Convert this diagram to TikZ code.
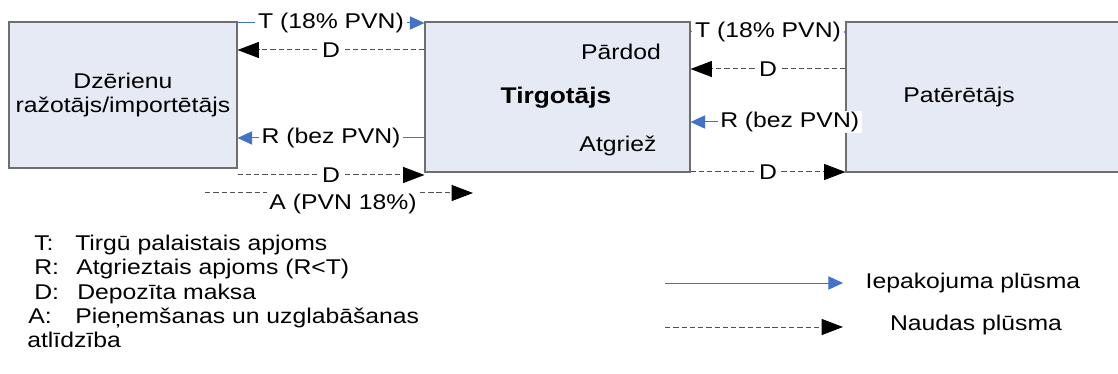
\documentclass[tikz,border=0pt]{standalone}
\usepackage{fontspec}
\setmainfont{Liberation Sans}[FakeStretch=1.16]
\usetikzlibrary{arrows.meta}
\definecolor{boxfill}{HTML}{E6EAF4}
\definecolor{boxline}{HTML}{6E6E6E}
\definecolor{flowblue}{HTML}{4472C4}
\definecolor{cashline}{HTML}{505050}
\begin{document}
\begin{tikzpicture}[x=0.75pt,y=-0.75pt,
  font=\fontsize{16}{18}\selectfont,
  every node/.style={inner sep=1pt},
  box/.style={draw=boxline, fill=boxfill, line width=0.8pt, inner sep=0pt, align=center},
  pack/.style={draw=flowblue, line width=0.75pt, -{Triangle[length=11pt,width=10pt,color=flowblue]}},
  packsmall/.style={draw=flowblue, line width=0.75pt, -{Triangle[length=4pt,width=5pt,color=flowblue]}},
  cash/.style={draw=cashline, line width=0.75pt, dash pattern=on 4pt off 2.2pt, -{Triangle[length=16pt,width=12pt,color=black]}},
  lbl/.style={fill=white, inner xsep=2pt, inner ysep=1pt, text=black},
  legtxt/.style={anchor=base west, inner sep=0pt}
]
\useasboundingbox (0,0) rectangle (1118,374);

% boxes
\node[box, minimum width=171pt, minimum height=109.5pt] (b1) at (123,95) {Dzērienu\\ražotājs/importētājs};
\node[box, minimum width=198.75pt, minimum height=112.5pt] (b2) at (557.5,97) {};
\node[box, minimum width=209.25pt, minimum height=112.5pt] (b3) at (985.5,97) {};

\node (pard) at (621,52) {Pārdod};
\node[font=\fontsize{17}{18}\selectfont\bfseries] (tirg) at (556,98) {Tirgotājs};
\node (atgr) at (618,146) {Atgriež};
\node (pat) at (959,97) {Patērētājs};

% left connectors
\draw[pack] (b1.east |- 0,23) -- node[lbl] (lt) {T (18\% PVN)} (b2.west |- 0,23);
\draw[cash] (b2.west |- 0,50) -- node[lbl] (ld1) {D} (b1.east |- 0,50);
\draw[pack] (b2.west |- 0,138) -- node[lbl] (lr) {R (bez PVN)} (b1.east |- 0,138);
\draw[cash] (b1.east |- 0,175) -- node[lbl] (ld2) {D} (b2.west |- 0,175);
\coordinate (a1) at (205,193);
\coordinate (a2) at (473,193);
\draw[cash] (a1) -- node[lbl, pos=0.515, yshift=-8.5pt, inner ysep=2pt] (la) {A (PVN 18\%)} (a2);

% right connectors
\draw[packsmall] (b2.east |- 0,32) -- node[lbl] (rt) {T (18\% PVN)} (b3.west |- 0,32);
\draw[cash] (b3.west |- 0,69) -- node[lbl] (rd1) {D} (b2.east |- 0,69);
\draw[pack] (b3.west |- 0,122) -- node[lbl, pos=0.36] (rr) {R (bez PVN)} (b2.east |- 0,122);
\draw[cash] (b2.east |- 0,172) -- node[lbl] (rd2) {D} (b3.west |- 0,172);

% legend of symbols
\node[legtxt] (kT) at (34,251) {T:};
\node[legtxt] (dT) at (75,251) {Tirgū palaistais apjoms};
\node[legtxt] (kR) at (34,275) {R:};
\node[legtxt] (dR) at (76,275) {Atgrieztais apjoms (R<T)};
\node[legtxt] (kD) at (34,299) {D:};
\node[legtxt] (dD) at (77,299) {Depozīta maksa};
\node[legtxt] (kA) at (28,323) {A:};
\node[legtxt] (dA) at (75,323) {Pieņemšanas un uzglabāšanas};
\node[legtxt] (dA2) at (27,347) {atlīdzība};

% legend of flows
\coordinate (p1) at (665,283);
\coordinate (p2) at (843,283);
\draw[pack] (p1) -- (p2);
\node (lp) at (973,283) {Iepakojuma plūsma};
\coordinate (m1) at (665,327);
\coordinate (m2) at (843,327);
\draw[cash] (m1) -- (m2);
\node (lm) at (976,325) {Naudas plūsma};
\end{tikzpicture}
\end{document}
